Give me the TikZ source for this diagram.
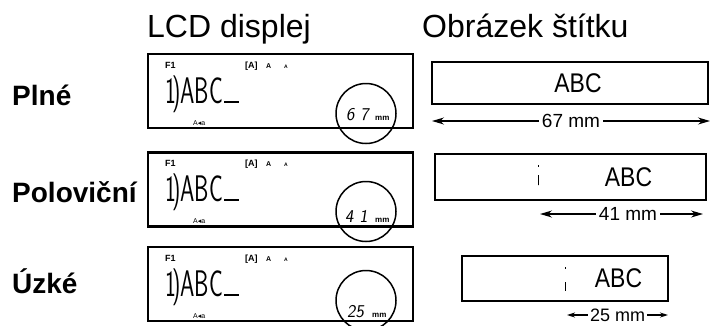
\documentclass[tikz,border=0pt]{standalone}
\usepackage{fontspec}
\setmainfont{Liberation Sans}
\newfontfamily\symfont{DejaVu Sans}
\usetikzlibrary{arrows.meta}

\begin{document}
\begin{tikzpicture}[x=1pt, y=-1pt, inner sep=0pt, >={Stealth[length=12pt,width=7pt]},
  colhead/.style={anchor=base west, font=\fontsize{32}{36}\selectfont},
  rowname/.style={anchor=base west, font=\bfseries\fontsize{28}{30}\selectfont},
  lcd/.style={rectangle, draw, line width=2.2pt, minimum width=265, minimum height=74},
  ind/.style={anchor=base west, font=\bfseries\fontsize{9}{10}\selectfont},
  seg/.style={anchor=base west, xscale=0.62, font=\sffamily\fontsize{37}{40}\selectfont},
  ring/.style={circle, draw, line width=1.5pt, minimum size=60},
  digits/.style={anchor=base west, xslant=0.15, font=\sffamily\fontsize{18}{20}\selectfont},
  mmunit/.style={anchor=base west, font=\bfseries\fontsize{8}{9}\selectfont},
  tape/.style={rectangle, draw, line width=1.3pt},
  printed/.style={xscale=0.85, font=\fontsize{27}{30}\selectfont},
  margin/.style={line width=1pt},
  dimline/.style={<->, line width=1.2pt},
  dimtext/.style={fill=white, inner xsep=3pt, inner ysep=0pt, font=\fontsize{19}{21}\selectfont}]
\useasboundingbox (0,0) rectangle (711,325);

\node (hlcd) at (147,37) [colhead] {LCD displej};
\node (hlab) at (422,37) [colhead] {Obrázek štítku};

\node (full) at (12,105) [rowname] {Plné};
\node (half) at (12,202) [rowname] {Poloviční};
\node (narrow) at (12,293) [rowname] {Úzké};

\node (lcda) at (280.5,91) [lcd] {};
\node (f1a) at (165,68) [ind] {F1};
\node (capa) at (245,68) [ind] {[A]};
\node (siza) at (266,68) [ind, font=\bfseries\fontsize{7}{8}\selectfont] {A};
\node (sma) at (284,68) [ind, font=\bfseries\fontsize{5}{6}\selectfont] {A};
\node (txta) at (165,103) [seg] {1\kern-6pt)ABC\kern2pt\rule{24pt}{2pt}};
\node (dira) at (193,125) [ind, font=\fontsize{7}{8}\selectfont] {A{\symfont ◂}a};
\node (ringa) at (366,113.5) [ring] {};
\node (numa) at (346,120) [digits] {6 7};
\node (mma) at (375,120) [mmunit] {mm};

\node (lcdb) at (280.5,189.5) [lcd] {};
\node (f1b) at (165,166) [ind] {F1};
\node (capb) at (245,166) [ind] {[A]};
\node (sizb) at (266,166) [ind, font=\bfseries\fontsize{7}{8}\selectfont] {A};
\node (smb) at (284,166) [ind, font=\bfseries\fontsize{5}{6}\selectfont] {A};
\node (txtb) at (165,201) [seg] {1\kern-6pt)ABC\kern2pt\rule{24pt}{2pt}};
\node (dirb) at (193,223) [ind, font=\fontsize{7}{8}\selectfont] {A{\symfont ◂}a};
\node (ringb) at (366,211.5) [ring] {};
\node (numb) at (345,222) [digits] {4 1};
\node (mmb) at (375,222) [mmunit] {mm};

\node (lcdc) at (280.5,284) [lcd] {};
\node (f1c) at (165,261) [ind] {F1};
\node (capc) at (245,261) [ind] {[A]};
\node (sizc) at (266,261) [ind, font=\bfseries\fontsize{7}{8}\selectfont] {A};
\node (smc) at (284,261) [ind, font=\bfseries\fontsize{5}{6}\selectfont] {A};
\node (txtc) at (165,296) [seg] {1\kern-6pt)ABC\kern2pt\rule{24pt}{2pt}};
\node (dirc) at (193,318) [ind, font=\fontsize{7}{8}\selectfont] {A{\symfont ◂}a};
\node (ringc) at (366,300.5) [ring] {};
\node (numc) at (347,317) [digits] {25};
\node (mmc) at (372,317) [mmunit] {mm};

\node (tapea) at (570,83) [tape, minimum width=276, minimum height=42] {};
\node (abca) at (578,83) [printed] {ABC};
\coordinate (dimal) at (432,121);
\coordinate (dimar) at (710,121);
\draw[dimline] (dimal) -- (dimar) node[midway, dimtext] {67 mm};

\node (tapeb) at (570.5,177) [tape, minimum width=271, minimum height=46] {};
\node (abcb) at (628.5,177) [printed] {ABC};
\coordinate (margbt) at (538,165);
\coordinate (margbb) at (538,185);
\draw[margin, dash pattern=on 2pt off 8pt on 10pt off 0pt] (margbt) -- (margbb);
\coordinate (dimbl) at (540,214);
\coordinate (dimbr) at (703,214);
\draw[dimline] (dimbl) -- (dimbr) node[pos=0.54, dimtext] {41 mm};

\node (tapec) at (565,278.5) [tape, minimum width=206, minimum height=45] {};
\node (abcc) at (618.5,278) [printed] {ABC};
\coordinate (margct) at (565,267);
\coordinate (margcb) at (565,291);
\draw[margin, dash pattern=on 2pt off 13pt on 9pt off 0pt] (margct) -- (margcb);
\coordinate (dimcl) at (567,315);
\coordinate (dimcr) at (668,315);
\draw[dimline, >={Stealth[length=8pt,width=5pt]}] (dimcl) -- (dimcr) node[midway, dimtext, inner xsep=2pt, font=\fontsize{18}{20}\selectfont] {25 mm};
\end{tikzpicture}
\end{document}
